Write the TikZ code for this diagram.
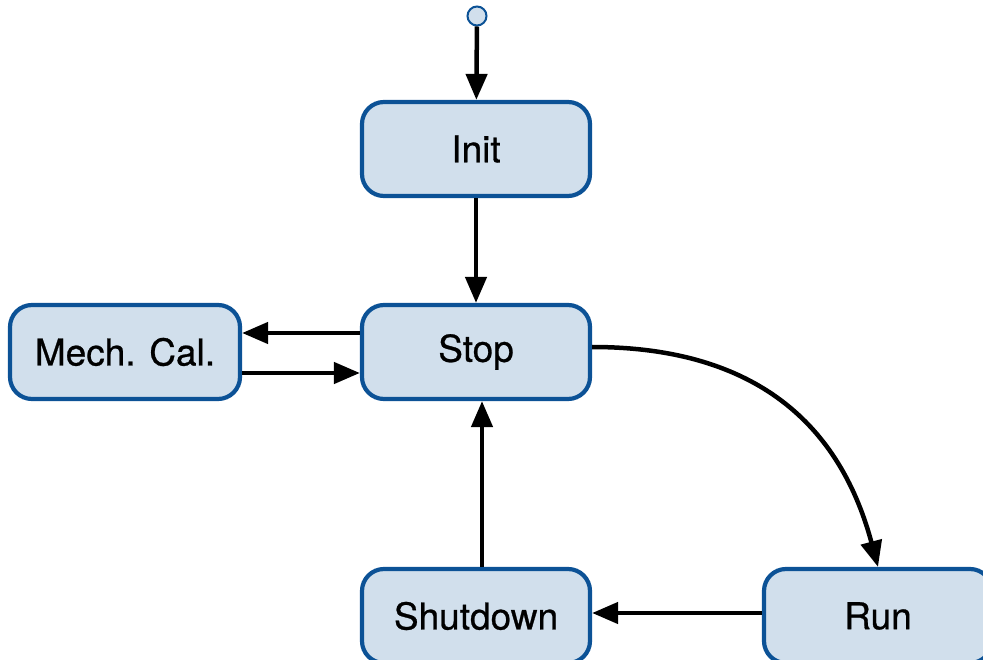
\documentclass[tikz,border=0pt]{standalone}
\usepackage{fontspec}
\setmainfont{TeX Gyre Heros}
\newfontfamily\statefont{TeX Gyre Heros}[FakeBold=0.7]
\usetikzlibrary{arrows.meta}
\definecolor{stateline}{RGB}{12,82,150}
\definecolor{statefill}{RGB}{209,223,236}
\begin{document}
\begin{tikzpicture}[x=1pt,y=-1pt,
  state/.style={draw=stateline, fill=statefill, line width=4.2pt,
    rounded corners=22pt, minimum width=228pt, minimum height=94pt,
    inner sep=0pt, font=\statefont\fontsize{37}{44}\selectfont},
  startdot/.style={circle, draw=stateline, fill=statefill, line width=2pt,
    minimum size=19pt, inner sep=0pt},
  trans/.style={line width=4.5pt, -{Triangle[length=26pt,width=21pt]}}]
  \useasboundingbox (0,0) rectangle (983,660);

  % states
  \node[startdot] (start) at (477,16) {};
  \node[state] (init) at (476,149) {Init};
  \node[state] (stop) at (476,352) {Stop};
  \node[state, minimum width=230pt] (mech) at (125,352) {Mech. Cal.};
  \node[state] (shut) at (476,616) {Shutdown};
  \node[state] (run) at (878,616) {Run};

  % transitions
  \draw[trans] (start) -- (init);
  \draw[trans] (init) -- (stop);
  \draw[trans] ([yshift=19pt]stop.west) -- ([yshift=19pt]mech.east);
  \draw[trans] ([yshift=-21pt]mech.east) -- ([yshift=-21pt]stop.west);
  \draw[trans] ([yshift=5pt]stop.east) to[out=0, in=105, looseness=1.1] (run.north);
  \draw[trans] (run.west |- 0,613) -- (shut.east |- 0,613);
  \draw[trans] ([xshift=6pt]shut.north) -- ([xshift=6pt]stop.south);
\end{tikzpicture}
\end{document}
